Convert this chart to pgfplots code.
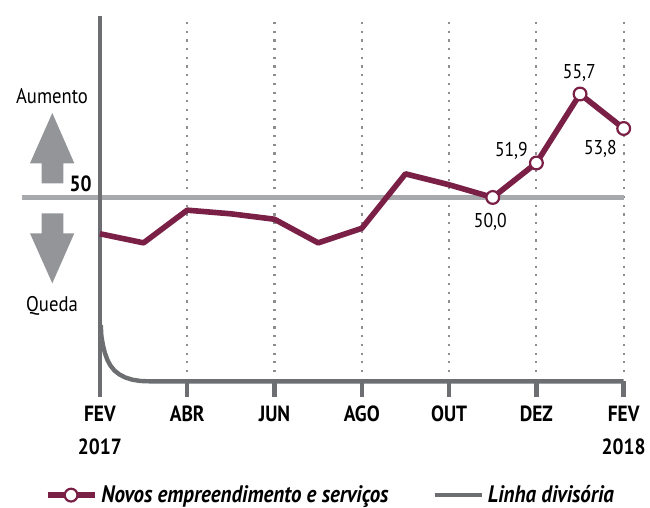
\documentclass[border=0pt]{standalone}
\usepackage{fontspec}
\setmainfont{PT Sans}[FakeStretch=0.88]
\usepackage{pgfplots}
\pgfplotsset{compat=1.18}

\definecolor{wine}{HTML}{7A1F46}
\definecolor{divgray}{HTML}{6D6E71}
\definecolor{refgray}{HTML}{A7A9AC}
\definecolor{arrowgray}{HTML}{939598}
\definecolor{dotgray}{HTML}{8C8E90}

\newcommand{\lblfont}{\fontsize{10.6}{12}\selectfont}
\newcommand{\valfont}{\fontsize{10}{12}\selectfont}
\newcommand{\boldfont}{\fontsize{11}{13}\selectfont\bfseries}
\newcommand{\legfont}{\fontsize{11.9}{13}\selectfont\bfseries\itshape}

\begin{document}
\begin{tikzpicture}
\useasboundingbox (-11.1pt,-55.425pt) rectangle (313.9pt,198.575pt);
\begin{axis}[
  at={(0,0)}, anchor=south west,
  scale only axis, width=300.75pt, height=190.6pt,
  xmin=-1.78, xmax=12, ymin=39, ymax=60,
  axis x line*=bottom, axis y line=none,
  x axis line style={draw=none},
  xtick={0,2,...,12},
  xticklabels={FEV,ABR,JUN,AGO,OUT,DEZ,FEV},
  ytick=\empty,
  tick align=inside, major tick length=8pt,
  xtick style={line width=2.2pt, color=divgray},
  xticklabel style={font=\boldfont, anchor=base, inner sep=0pt, yshift=-12.3pt},
  clip=false,
  legend columns=2,
  legend style={at={(axis description cs:0.514,-0.257)}, anchor=center,
    draw=none, fill=none, font=\legfont,
    /tikz/every even column/.append style={column sep=20pt}},
  legend image code/.code={\draw[mark repeat=2,mark phase=2,#1]
    plot coordinates {(0pt,0pt) (11.75pt,0pt) (23.5pt,0pt)};},
]
% dotted guides
\pgfplotsinvokeforeach{2,4,...,12}{
  \draw[dotgray, line width=1.1pt, dash pattern=on 1.1pt off 3.25pt]
    (axis cs:#1,59.67) -- (axis cs:#1,40.39);
}
% reference line at 50
\draw[refgray, line width=2.2pt] (axis cs:-1.78,50) -- (axis cs:12,50);
% vertical axis
\draw[divgray, line width=2.2pt] (axis cs:0,39) -- (axis cs:0,60);

% series without markers (FEV 2017 - NOV 2017)
\addplot[wine, line width=2.8pt, line join=round, forget plot] coordinates {
  (0,48.0) (1,47.5) (2,49.3) (3,49.1) (4,48.8) (5,47.5)
  (6,48.3) (7,51.3) (8,50.7) (9,50.0)
};

% series with markers (NOV 2017 - FEV 2018)
\addplot[wine, line width=2.8pt, line join=round, mark=*, mark size=3.2pt,
  mark options={fill=white, draw=wine, line width=1.1pt}] coordinates {
  (9,50.0) (10,51.9) (11,55.7) (12,53.8)
};
\addlegendentry{Novos empreendimento e serviços}

% dividing line
\addplot[divgray, line width=2.2pt, line join=round] coordinates {
  (0.02,42.98) (0.034,42.37) (0.069,41.87) (0.115,41.43) (0.172,41.05)
  (0.241,40.74) (0.332,40.47) (0.447,40.25) (0.584,40.08) (0.745,39.96)
  (0.928,39.89) (1.157,39.87) (12,39.87)
};
\addlegendentry{Linha divisória}

\node[font=\valfont, anchor=base, inner sep=0pt, xshift=-1.2pt, yshift=-15pt] at (axis cs:9,50.0) {50,0};
\node[font=\valfont, anchor=base, inner sep=0pt, xshift=-12.5pt, yshift=3.45pt] at (axis cs:10,51.9) {51,9};
\node[font=\valfont, anchor=base, inner sep=0pt, xshift=-0.35pt, yshift=7.85pt] at (axis cs:11,55.7) {55,7};
\node[font=\valfont, anchor=base, inner sep=0pt, xshift=-11.65pt, yshift=-12.9pt] at (axis cs:12,53.8) {53,8};

\node[font=\boldfont, anchor=base, inner sep=0pt, yshift=-28.9pt] at (axis cs:0,39) {2017};
\node[font=\boldfont, anchor=base, inner sep=0pt, yshift=-28.9pt] at (axis cs:12,39) {2018};
\end{axis}

% left-hand annotations, in reference pixel units
\begin{scope}[x=0.5pt, y=-0.5pt, shift={(-11.1pt,198.575pt)}]
  \fill[arrowgray] (52.3,113) -- (74.3,163.3) -- (63.3,163.3) -- (63.3,183.3)
    -- (41.7,183.3) -- (41.7,163.3) -- (30,163.3) -- cycle;
  \fill[arrowgray] (52.3,283.3) -- (74.3,233.3) -- (63.3,233.3) -- (63.3,213.3)
    -- (41.7,213.3) -- (41.7,233.3) -- (30,233.3) -- cycle;
  \node[font=\lblfont, anchor=base, inner sep=0pt] at (52,104) {Aumento};
  \node[font=\lblfont, anchor=base, inner sep=0pt] at (52,312) {Queda};
  \node[font=\boldfont, anchor=base east, inner sep=0pt] at (92,192) {50};
\end{scope}
\end{tikzpicture}
\end{document}
